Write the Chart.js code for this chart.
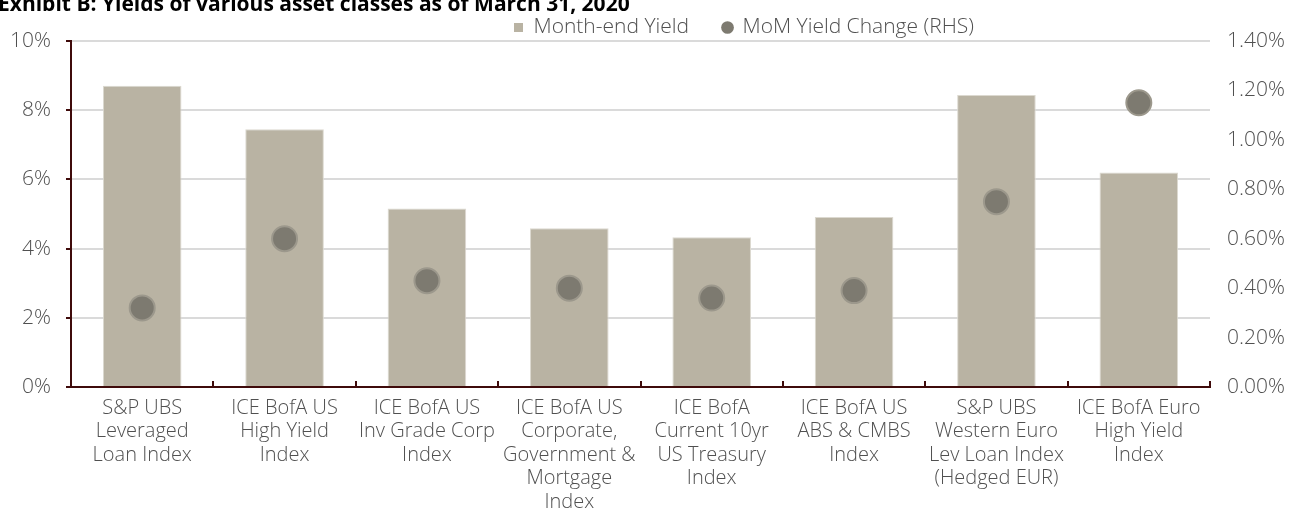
<!DOCTYPE html>
<html>
<head>
<meta charset="utf-8">
<script src="https://cdn.jsdelivr.net/npm/chart.js@4.4.1/dist/chart.umd.min.js"></script>
<style>
  html, body { margin: 0; padding: 0; background: #fff; overflow: hidden; }
  #wrap { position: relative; width: 1290px; height: 508px; }
  #title {
    position: absolute; left: -2px; top: -7px;
    font: bold 21px "Open Sans", sans-serif; line-height: 20px;
    color: #000; white-space: nowrap; z-index: 2;
  }
</style>
</head>
<body>
<div id="wrap">
  <div id="title">Exhibit B: Yields of various asset classes as of March 31, 2020</div>
  <canvas id="myChart" width="1290" height="508"></canvas>
</div>
<script>
// data
var categories = [
    ["S&P UBS", "Leveraged", "Loan Index"],
    ["ICE BofA US", "High Yield", "Index"],
    ["ICE BofA US", "Inv Grade Corp", "Index"],
    ["ICE BofA US", "Corporate,", "Government &", "Mortgage", "Index"],
    ["ICE BofA", "Current 10yr", "US Treasury", "Index"],
    ["ICE BofA US", "ABS & CMBS", "Index"],
    ["S&P UBS", "Western Euro", "Lev Loan Index", "(Hedged EUR)"],
    ["ICE BofA Euro", "High Yield", "Index"]
];
var monthEndYield = [8.71, 7.45, 5.16, 4.59, 4.33, 4.91, 8.44, 6.20];
var momYieldChange = [0.32, 0.60, 0.43, 0.40, 0.36, 0.39, 0.75, 1.15];
var leftAxisMax = 10, leftAxisStep = 2;
var rightAxisMax = 1.4, rightAxisStep = 0.2;

var axisColor = "#3f0b0b";
var textColor = "#505050";
var barColor = "#b9b3a3";
var dotColor = "#7d7a70";

Chart.defaults.font.family = "'Open Sans', sans-serif";
Chart.defaults.font.weight = 300;
Chart.defaults.color = textColor;

// legend placement + the small upward ticks on the category axis
var layoutTweaks = {
    id: "layoutTweaks",
    beforeLayout: function(chart) {
        var lg = chart.legend;
        if (lg && !lg._patched) {
            var fit = lg.fit;
            lg.fit = function() { fit.call(this); this.height = 41; };
            lg._patched = true;
        }
    },
    afterLayout: function(chart) {
        var lg = chart.legend;
        lg.left = 480;
        lg.top = -17;
    },
    afterDraw: function(chart) {
        var x = chart.scales.x, ctx = chart.ctx;
        var n = categories.length;
        var step = (x.right - x.left) / n;
        ctx.save();
        ctx.strokeStyle = axisColor;
        ctx.lineWidth = 2;
        for (var i = 1; i <= n; i++) {
            var px = Math.round(x.left + step * i);
            ctx.beginPath();
            ctx.moveTo(px, x.top);
            ctx.lineTo(px, x.top - 6);
            ctx.stroke();
        }
        ctx.restore();
    }
};

var ctx = document.getElementById("myChart");

new Chart(ctx, {
    data: {
        labels: categories,
        datasets: [{
            type: "bar",
            label: "Month-end Yield",
            data: monthEndYield,
            yAxisID: "y",
            backgroundColor: barColor,
            borderColor: "#dcd9d0",
            borderWidth: 1,
            barPercentage: 1,
            categoryPercentage: 0.552,
            order: 2
        }, {
            type: "line",
            label: "MoM Yield Change (RHS)",
            data: momYieldChange,
            yAxisID: "y1",
            showLine: false,
            pointStyle: "circle",
            pointRadius: 12.5,
            pointHoverRadius: 12.5,
            pointBackgroundColor: dotColor,
            pointBorderColor: "#9c988c",
            pointBorderWidth: 2,
            backgroundColor: dotColor,
            borderColor: "#9c988c",
            order: 1
        }]
    },
    options: {
        responsive: false,
        animation: false,
        layout: { padding: 0 },
        scales: {
            x: {
                grid: { display: false, drawTicks: false },
                border: { display: true, color: axisColor, width: 2 },
                ticks: {
                    autoSkip: false,
                    maxRotation: 0,
                    padding: 9,
                    color: textColor,
                    font: { size: 20, lineHeight: 1.18 }
                },
                afterFit: function(scale) { scale.height = 121; }
            },
            y: {
                position: "left",
                min: 0,
                max: leftAxisMax,
                ticks: {
                    stepSize: leftAxisStep,
                    padding: 15,
                    color: textColor,
                    font: { size: 21 },
                    callback: function(value) { return value + "%"; }
                },
                grid: {
                    color: "#dadada",
                    lineWidth: 2,
                    drawTicks: true,
                    tickLength: 5,
                    tickColor: axisColor,
                    tickWidth: 2
                },
                border: { display: true, color: axisColor, width: 2 },
                afterFit: function(scale) { scale.width = 71; }
            },
            y1: {
                position: "right",
                min: 0,
                max: rightAxisMax,
                ticks: {
                    stepSize: rightAxisStep,
                    padding: 17,
                    color: textColor,
                    font: { size: 21 },
                    callback: function(value) { return value.toFixed(2) + "%"; }
                },
                grid: { drawOnChartArea: false, drawTicks: false },
                border: { display: false },
                afterFit: function(scale) { scale.width = 80; }
            }
        },
        plugins: {
            legend: {
                display: true,
                position: "top",
                align: "start",
                labels: {
                    usePointStyle: true,
                    boxWidth: 9,
                    boxHeight: 9,
                    padding: 34,
                    color: textColor,
                    font: { size: 21 },
                    sort: function(a, b) { return a.datasetIndex - b.datasetIndex; },
                    generateLabels: function(chart) {
                        var items = Chart.defaults.plugins.legend.labels.generateLabels(chart);
                        items.forEach(function(item) {
                            if (item.datasetIndex === 0) {
                                item.pointStyle = "rect";
                                item.fillStyle = barColor;
                            } else {
                                item.pointStyle = "circle";
                                item.fillStyle = dotColor;
                            }
                            item.lineWidth = 0;
                        });
                        return items;
                    }
                }
            },
            tooltip: { enabled: false }
        }
    },
    plugins: [layoutTweaks]
});
</script>
</body>
</html>
